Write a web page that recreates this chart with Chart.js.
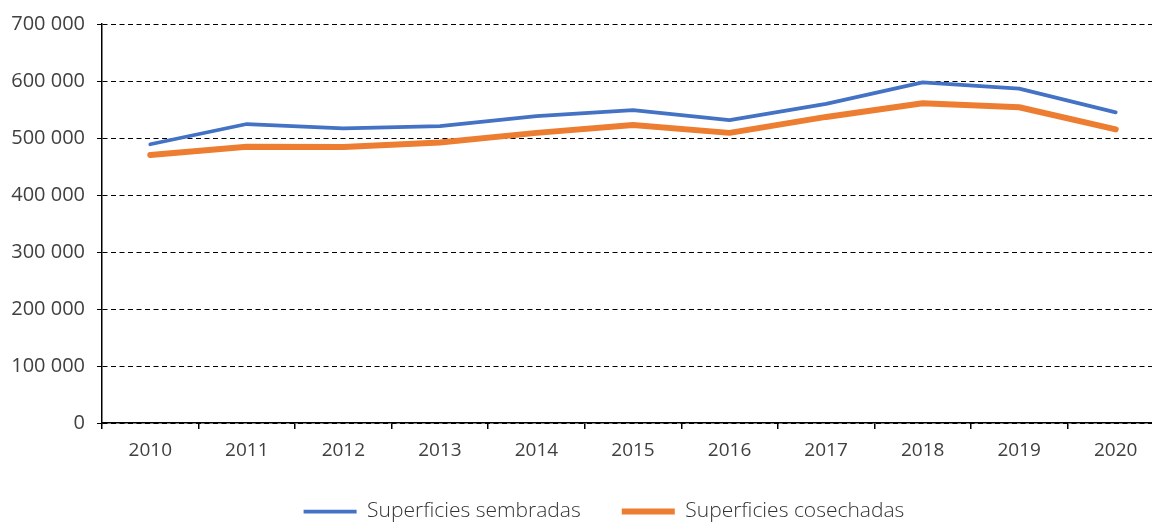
<!DOCTYPE html>
<html>
<head>
<meta charset="utf-8">
<script src="https://cdn.jsdelivr.net/npm/chart.js@4/dist/chart.umd.min.js"></script>
<style>
  html, body { margin: 0; padding: 0; background: #fff; overflow: hidden; }
  #wrap { width: 1152px; height: 523px; overflow: hidden; position: relative; }
  #box { width: 1180px; height: 540px; position: absolute; left: 0; top: 0; }
</style>
</head>
<body>
<div id="wrap"><div id="box"><canvas id="c"></canvas></div></div>
<script>
const years = ['2010','2011','2012','2013','2014','2015','2016','2017','2018','2019','2020'];
const sembradas = [489000, 524500, 517000, 521000, 538500, 549000, 531500, 560000, 597500, 586500, 545000];
const cosechadas = [470000, 484500, 484000, 492000, 509000, 523000, 509000, 537000, 561000, 554000, 515000];
const yTicks = [0, 100000, 200000, 300000, 400000, 500000, 600000, 700000];
const seriesNames = ['Superficies sembradas', 'Superficies cosechadas'];

function fmt(v) {
  return String(v).replace(/\B(?=(\d{3})+(?!\d))/g, ' ');
}

const shiftLegend = {
  id: 'shiftLegend',
  afterLayout(chart) {
    if (chart.legend) { chart.legend.left += 22; chart.legend.right += 22; }
  }
};

new Chart(document.getElementById('c'), {
  type: 'line',
  data: {
    labels: years,
    datasets: [
      { label: seriesNames[0], data: sembradas, borderColor: '#4472C4', backgroundColor: '#4472C4',
        borderWidth: 3.75, pointRadius: 0, pointStyle: 'line', tension: 0,
        borderCapStyle: 'round', borderJoinStyle: 'round' },
      { label: seriesNames[1], data: cosechadas, borderColor: '#ED7D31', backgroundColor: '#ED7D31',
        borderWidth: 6, pointRadius: 0, pointStyle: 'line', tension: 0,
        borderCapStyle: 'round', borderJoinStyle: 'round' }
    ]
  },
  plugins: [shiftLegend],
  options: {
    responsive: true,
    maintainAspectRatio: false,
    animation: false,
    layout: { padding: { top: 24, right: 16, left: 0, bottom: 8 } },
    plugins: {
      tooltip: { enabled: false },
      legend: {
        position: 'bottom',
        labels: {
          font: { family: "'Open Sans', sans-serif", size: 21, weight: 300 },
          color: '#333333',
          usePointStyle: true,
          pointStyleWidth: 53,
          boxHeight: 20,
          padding: 41
        }
      }
    },
    scales: {
      x: {
        offset: true,
        grid: { display: true, drawOnChartArea: false, drawTicks: true, tickLength: 6, offset: true,
                color: '#000', lineWidth: 1.5 },
        border: { display: true, color: '#000', width: 1.5 },
        ticks: { color: '#404040', padding: 10, maxRotation: 0,
                 font: { family: "'Open Sans', sans-serif", size: 19 } },
        afterFit(scale) { scale.height = 37; }
      },
      y: {
        min: 0, max: 700000,
        afterBuildTicks(scale) { scale.ticks = yTicks.map(v => ({ value: v })); },
        grid: { display: true, drawOnChartArea: true, drawTicks: true, tickLength: 5,
                color: '#000', lineWidth: 1 },
        border: { display: true, color: '#000', width: 1.5, dash: [5, 3.5] },
        ticks: { color: '#404040', padding: 12, callback: v => fmt(v),
                 font: { family: "'Open Sans', sans-serif", size: 20 } },
        afterFit(scale) { scale.width = 102; }
      }
    }
  }
});
</script>
</body>
</html>
